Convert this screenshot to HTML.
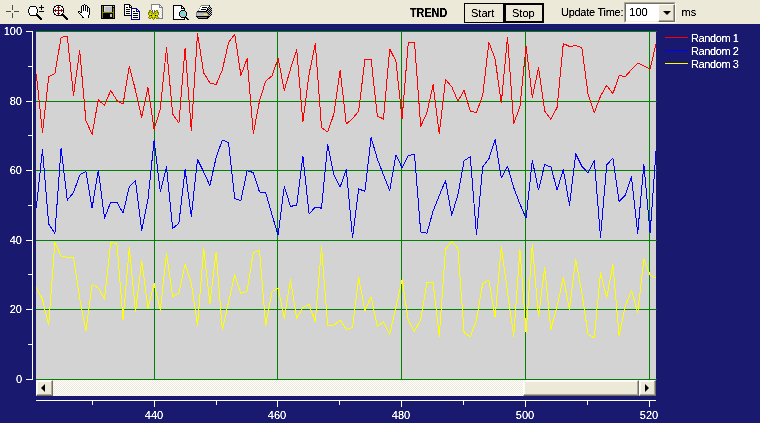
<!DOCTYPE html>
<html><head><meta charset="utf-8"><title>TREND</title>
<style>
html,body{margin:0;padding:0;}
body{width:760px;height:423px;overflow:hidden;background:#191970;font-family:"Liberation Sans",sans-serif;font-size:11px;position:relative;color:#000;}
#tb{position:absolute;left:0;top:0;width:760px;height:24px;background:#ece9d8;}
.t,.btn span{filter:url(#cr);}
.t{position:absolute;white-space:nowrap;line-height:12px;height:12px;transform-origin:0 50%;}
.r{transform-origin:100% 50%;text-align:right;}
.c{transform-origin:50% 50%;text-align:center;}
.w{color:#fff;}
.btn{position:absolute;top:3px;height:20px;border:1px solid #000;background:#ece9d8;box-sizing:border-box;font-size:11px;}
.btn span{position:absolute;white-space:nowrap;line-height:12px;height:12px;}
#plot{position:absolute;left:36px;top:31px;width:620px;height:349px;background:#d3d3d3;}
#sb{position:absolute;left:36px;top:380px;width:620px;height:16px;background:#ece9d8;background-image:linear-gradient(45deg,#fff 25%,transparent 25%,transparent 75%,#fff 75%),linear-gradient(45deg,#fff 25%,transparent 25%,transparent 75%,#fff 75%);background-size:2px 2px;background-position:0 0,1px 1px;}
.sbb{position:absolute;top:0;height:16px;box-sizing:border-box;background:#ece9d8;border:1px solid;border-color:#fff #716f64 #716f64 #fff;box-shadow:inset -1px -1px 0 #aca899,inset 1px 1px 0 #fbfaf6;}
.ar{position:absolute;top:2.5px;width:0;height:0;border:4px solid transparent;}
#sel{position:absolute;left:624px;top:2px;width:52px;height:21px;box-sizing:border-box;background:#fff;border:1px solid;border-color:#aca899 #fff #fff #aca899;}
#sel:before{content:"";position:absolute;left:0;top:0;right:0;bottom:0;border:1px solid;border-color:#716f64 #f1efe2 #f1efe2 #716f64;}
#selb{position:absolute;left:33px;top:1px;width:17px;height:18px;box-sizing:border-box;background:#ece9d8;border:1px solid;border-color:#fff #716f64 #716f64 #fff;box-shadow:inset -1px -1px 0 #aca899;}
#selb i{position:absolute;left:4.5px;top:6px;width:0;height:0;border:4px solid transparent;border-top:4px solid #000;border-bottom:0;margin-left:-0.5px;}
svg{position:absolute;left:0;top:0;}
</style></head><body>
<div id="tb">
<div class="t" id="trend" style="left:410px;top:7px;font-weight:bold;font-size:12px;transform:scaleX(0.9);">TREND</div>
<div class="btn" id="b1" style="left:464px;width:40px;"><span id="s1" style="left:6px;top:3px;">Start</span></div>
<div class="btn" id="b2" style="left:504px;width:40px;border-width:2px;"><span id="s2" style="left:6px;top:2px;">Stop</span></div>
<div class="t" id="ut" style="left:561px;top:6px;letter-spacing:-0.27px;">Update Time:</div>
<div id="sel"><div class="t" id="v100" style="left:4.3px;top:3px;">100</div><div id="selb"><i></i></div></div>
<div class="t" id="ms" style="left:681.5px;top:6px;">ms</div>
</div>
<div id="plot"></div>
<div id="sb">
<div class="sbb" style="left:0;width:17px;"><div class="ar" style="border-right:4.5px solid #000;border-left:0;left:3.5px;"></div></div>
<div class="sbb" style="left:487px;width:116px;"></div>
<div class="sbb" style="left:603px;width:17px;"><div class="ar" style="border-left:4.5px solid #000;border-right:0;left:5px;"></div></div>
</div>

<div class="t r w yl" style="right:738px;top:25px;">100</div>
<div class="t r w yl" style="right:738px;top:95px;">80</div>
<div class="t r w yl" style="right:738px;top:164px;">60</div>
<div class="t r w yl" style="right:738px;top:234px;">40</div>
<div class="t r w yl" style="right:738px;top:303px;">20</div>
<div class="t r w yl" style="right:738px;top:373px;">0</div>
<div class="t c w xl" style="left:134px;width:40px;top:409px;">440</div>
<div class="t c w xl" style="left:257px;width:40px;top:409px;">460</div>
<div class="t c w xl" style="left:381px;width:40px;top:409px;">480</div>
<div class="t c w xl" style="left:505px;width:40px;top:409px;">500</div>
<div class="t c w xl" style="left:629px;width:40px;top:409px;">520</div>
<div class="t w lg" style="left:691px;top:32px;letter-spacing:-0.4px;">Random 1</div>
<div class="t w lg" style="left:691px;top:45px;letter-spacing:-0.4px;">Random 2</div>
<div class="t w lg" style="left:691px;top:58px;letter-spacing:-0.4px;">Random 3</div>
<svg width="760" height="423" viewBox="0 0 760 423">
<defs><filter id="cr" x="-5%" y="-25%" width="110%" height="150%" color-interpolation-filters="sRGB"><feComponentTransfer><feFuncA type="table" tableValues="0 0.25 1 1"/></feComponentTransfer></filter></defs>
<g id="icons"><g shape-rendering="crispEdges"><rect x="12" y="5" width="1" height="1" fill="#4a4a4a"/><rect x="12" y="6" width="1" height="1" fill="#4a4a4a"/><rect x="12" y="7" width="1" height="1" fill="#4a4a4a"/><rect x="12" y="8" width="1" height="1" fill="#4a4a4a"/><rect x="12" y="9" width="1" height="1" fill="#4a4a4a"/><rect x="6" y="11" width="5" height="1" fill="#4a4a4a"/><rect x="14" y="11" width="5" height="1" fill="#4a4a4a"/><rect x="12" y="13" width="1" height="1" fill="#4a4a4a"/><rect x="12" y="14" width="1" height="1" fill="#4a4a4a"/><rect x="12" y="15" width="1" height="1" fill="#4a4a4a"/><rect x="12" y="16" width="1" height="1" fill="#4a4a4a"/><rect x="12" y="17" width="1" height="1" fill="#4a4a4a"/><rect x="41" y="5" width="1" height="1" fill="#000"/><rect x="30" y="6" width="6" height="1" fill="#000"/><rect x="41" y="6" width="1" height="1" fill="#000"/><rect x="29" y="7" width="1" height="1" fill="#000"/><rect x="30" y="7" width="6" height="1" fill="#fff"/><rect x="36" y="7" width="1" height="1" fill="#000"/><rect x="39" y="7" width="5" height="1" fill="#000"/><rect x="29" y="8" width="1" height="1" fill="#000"/><rect x="30" y="8" width="6" height="1" fill="#fff"/><rect x="36" y="8" width="1" height="1" fill="#000"/><rect x="41" y="8" width="1" height="1" fill="#000"/><rect x="28" y="9" width="1" height="1" fill="#000"/><rect x="29" y="9" width="8" height="1" fill="#fff"/><rect x="37" y="9" width="1" height="1" fill="#000"/><rect x="41" y="9" width="1" height="1" fill="#000"/><rect x="28" y="10" width="1" height="1" fill="#000"/><rect x="29" y="10" width="8" height="1" fill="#fff"/><rect x="37" y="10" width="1" height="1" fill="#000"/><rect x="28" y="11" width="1" height="1" fill="#000"/><rect x="29" y="11" width="8" height="1" fill="#fff"/><rect x="37" y="11" width="1" height="1" fill="#000"/><rect x="39" y="11" width="5" height="1" fill="#000"/><rect x="28" y="12" width="1" height="1" fill="#000"/><rect x="29" y="12" width="8" height="1" fill="#fff"/><rect x="37" y="12" width="1" height="1" fill="#000"/><rect x="29" y="13" width="1" height="1" fill="#000"/><rect x="30" y="13" width="6" height="1" fill="#fff"/><rect x="36" y="13" width="1" height="1" fill="#000"/><rect x="29" y="14" width="1" height="1" fill="#000"/><rect x="30" y="14" width="6" height="1" fill="#fff"/><rect x="36" y="14" width="2" height="1" fill="#000"/><rect x="30" y="15" width="9" height="1" fill="#000"/><rect x="37" y="16" width="3" height="1" fill="#000"/><rect x="38" y="17" width="3" height="1" fill="#000"/><rect x="39" y="18" width="3" height="1" fill="#000"/><rect x="40" y="19" width="2" height="1" fill="#000"/><rect x="56" y="5" width="5" height="1" fill="#000"/><rect x="54" y="6" width="2" height="1" fill="#000"/><rect x="56" y="6" width="2" height="1" fill="#fff"/><rect x="58" y="6" width="1" height="1" fill="#800000"/><rect x="59" y="6" width="2" height="1" fill="#fff"/><rect x="61" y="6" width="2" height="1" fill="#000"/><rect x="54" y="7" width="1" height="1" fill="#000"/><rect x="55" y="7" width="2" height="1" fill="#fff"/><rect x="57" y="7" width="3" height="1" fill="#800000"/><rect x="60" y="7" width="2" height="1" fill="#fff"/><rect x="62" y="7" width="1" height="1" fill="#000"/><rect x="53" y="8" width="1" height="1" fill="#000"/><rect x="54" y="8" width="4" height="1" fill="#fff"/><rect x="58" y="8" width="1" height="1" fill="#800000"/><rect x="59" y="8" width="4" height="1" fill="#fff"/><rect x="63" y="8" width="1" height="1" fill="#000"/><rect x="53" y="9" width="1" height="1" fill="#000"/><rect x="54" y="9" width="1" height="1" fill="#fff"/><rect x="55" y="9" width="1" height="1" fill="#800000"/><rect x="56" y="9" width="2" height="1" fill="#fff"/><rect x="58" y="9" width="1" height="1" fill="#800000"/><rect x="59" y="9" width="2" height="1" fill="#fff"/><rect x="61" y="9" width="1" height="1" fill="#800000"/><rect x="62" y="9" width="1" height="1" fill="#fff"/><rect x="63" y="9" width="1" height="1" fill="#000"/><rect x="53" y="10" width="1" height="1" fill="#000"/><rect x="54" y="10" width="9" height="1" fill="#800000"/><rect x="63" y="10" width="1" height="1" fill="#000"/><rect x="53" y="11" width="1" height="1" fill="#000"/><rect x="54" y="11" width="1" height="1" fill="#fff"/><rect x="55" y="11" width="1" height="1" fill="#800000"/><rect x="56" y="11" width="2" height="1" fill="#fff"/><rect x="58" y="11" width="1" height="1" fill="#800000"/><rect x="59" y="11" width="2" height="1" fill="#fff"/><rect x="61" y="11" width="1" height="1" fill="#800000"/><rect x="62" y="11" width="1" height="1" fill="#fff"/><rect x="63" y="11" width="1" height="1" fill="#000"/><rect x="53" y="12" width="1" height="1" fill="#000"/><rect x="54" y="12" width="4" height="1" fill="#fff"/><rect x="58" y="12" width="1" height="1" fill="#800000"/><rect x="59" y="12" width="4" height="1" fill="#fff"/><rect x="63" y="12" width="1" height="1" fill="#000"/><rect x="54" y="13" width="1" height="1" fill="#000"/><rect x="55" y="13" width="2" height="1" fill="#fff"/><rect x="57" y="13" width="3" height="1" fill="#800000"/><rect x="60" y="13" width="2" height="1" fill="#fff"/><rect x="62" y="13" width="1" height="1" fill="#000"/><rect x="54" y="14" width="2" height="1" fill="#000"/><rect x="56" y="14" width="2" height="1" fill="#fff"/><rect x="58" y="14" width="1" height="1" fill="#800000"/><rect x="59" y="14" width="2" height="1" fill="#fff"/><rect x="61" y="14" width="3" height="1" fill="#000"/><rect x="56" y="15" width="9" height="1" fill="#000"/><rect x="63" y="16" width="3" height="1" fill="#000"/><rect x="64" y="17" width="3" height="1" fill="#000"/><rect x="65" y="18" width="3" height="1" fill="#000"/><rect x="66" y="19" width="2" height="1" fill="#000"/><rect x="84" y="4" width="1" height="1" fill="#000"/><rect x="82" y="5" width="2" height="1" fill="#000"/><rect x="84" y="5" width="1" height="1" fill="#fff"/><rect x="85" y="5" width="2" height="1" fill="#000"/><rect x="81" y="6" width="1" height="1" fill="#000"/><rect x="82" y="6" width="1" height="1" fill="#fff"/><rect x="83" y="6" width="1" height="1" fill="#000"/><rect x="84" y="6" width="1" height="1" fill="#fff"/><rect x="85" y="6" width="1" height="1" fill="#000"/><rect x="86" y="6" width="1" height="1" fill="#fff"/><rect x="87" y="6" width="1" height="1" fill="#000"/><rect x="81" y="7" width="1" height="1" fill="#000"/><rect x="82" y="7" width="1" height="1" fill="#fff"/><rect x="83" y="7" width="1" height="1" fill="#000"/><rect x="84" y="7" width="1" height="1" fill="#fff"/><rect x="85" y="7" width="1" height="1" fill="#000"/><rect x="86" y="7" width="1" height="1" fill="#fff"/><rect x="87" y="7" width="2" height="1" fill="#000"/><rect x="81" y="8" width="1" height="1" fill="#000"/><rect x="82" y="8" width="1" height="1" fill="#fff"/><rect x="83" y="8" width="1" height="1" fill="#000"/><rect x="84" y="8" width="1" height="1" fill="#fff"/><rect x="85" y="8" width="1" height="1" fill="#000"/><rect x="86" y="8" width="1" height="1" fill="#fff"/><rect x="87" y="8" width="1" height="1" fill="#000"/><rect x="88" y="8" width="1" height="1" fill="#fff"/><rect x="89" y="8" width="1" height="1" fill="#000"/><rect x="81" y="9" width="1" height="1" fill="#000"/><rect x="82" y="9" width="1" height="1" fill="#fff"/><rect x="83" y="9" width="1" height="1" fill="#000"/><rect x="84" y="9" width="1" height="1" fill="#fff"/><rect x="85" y="9" width="1" height="1" fill="#000"/><rect x="86" y="9" width="1" height="1" fill="#fff"/><rect x="87" y="9" width="1" height="1" fill="#000"/><rect x="88" y="9" width="1" height="1" fill="#fff"/><rect x="89" y="9" width="1" height="1" fill="#000"/><rect x="81" y="10" width="1" height="1" fill="#000"/><rect x="82" y="10" width="1" height="1" fill="#fff"/><rect x="83" y="10" width="1" height="1" fill="#000"/><rect x="84" y="10" width="1" height="1" fill="#fff"/><rect x="85" y="10" width="1" height="1" fill="#000"/><rect x="86" y="10" width="1" height="1" fill="#fff"/><rect x="87" y="10" width="1" height="1" fill="#000"/><rect x="88" y="10" width="1" height="1" fill="#fff"/><rect x="89" y="10" width="1" height="1" fill="#000"/><rect x="78" y="11" width="2" height="1" fill="#000"/><rect x="81" y="11" width="1" height="1" fill="#000"/><rect x="82" y="11" width="5" height="1" fill="#fff"/><rect x="87" y="11" width="1" height="1" fill="#000"/><rect x="88" y="11" width="1" height="1" fill="#fff"/><rect x="89" y="11" width="1" height="1" fill="#000"/><rect x="78" y="12" width="1" height="1" fill="#000"/><rect x="79" y="12" width="1" height="1" fill="#fff"/><rect x="80" y="12" width="2" height="1" fill="#000"/><rect x="82" y="12" width="7" height="1" fill="#fff"/><rect x="89" y="12" width="1" height="1" fill="#000"/><rect x="79" y="13" width="1" height="1" fill="#000"/><rect x="80" y="13" width="9" height="1" fill="#fff"/><rect x="89" y="13" width="1" height="1" fill="#000"/><rect x="80" y="14" width="1" height="1" fill="#000"/><rect x="81" y="14" width="8" height="1" fill="#fff"/><rect x="89" y="14" width="1" height="1" fill="#000"/><rect x="81" y="15" width="1" height="1" fill="#000"/><rect x="82" y="15" width="6" height="1" fill="#fff"/><rect x="88" y="15" width="1" height="1" fill="#000"/><rect x="82" y="16" width="1" height="1" fill="#000"/><rect x="83" y="16" width="5" height="1" fill="#fff"/><rect x="88" y="16" width="1" height="1" fill="#000"/><rect x="82" y="17" width="2" height="1" fill="#000"/><rect x="84" y="17" width="4" height="1" fill="#fff"/><rect x="88" y="17" width="1" height="1" fill="#000"/><rect x="101" y="5" width="14" height="1" fill="#000"/><rect x="101" y="6" width="1" height="1" fill="#000"/><rect x="102" y="6" width="1" height="1" fill="#808000"/><rect x="103" y="6" width="1" height="1" fill="#000"/><rect x="104" y="6" width="8" height="1" fill="#e0e0e0"/><rect x="112" y="6" width="1" height="1" fill="#000"/><rect x="113" y="6" width="1" height="1" fill="#c0c0c0"/><rect x="114" y="6" width="1" height="1" fill="#000"/><rect x="101" y="7" width="1" height="1" fill="#000"/><rect x="102" y="7" width="1" height="1" fill="#808000"/><rect x="103" y="7" width="1" height="1" fill="#000"/><rect x="104" y="7" width="1" height="1" fill="#e0e0e0"/><rect x="105" y="7" width="7" height="1" fill="#c0c0c0"/><rect x="112" y="7" width="3" height="1" fill="#000"/><rect x="101" y="8" width="1" height="1" fill="#000"/><rect x="102" y="8" width="1" height="1" fill="#808000"/><rect x="103" y="8" width="1" height="1" fill="#000"/><rect x="104" y="8" width="1" height="1" fill="#e0e0e0"/><rect x="105" y="8" width="7" height="1" fill="#c0c0c0"/><rect x="112" y="8" width="1" height="1" fill="#000"/><rect x="113" y="8" width="1" height="1" fill="#808000"/><rect x="114" y="8" width="1" height="1" fill="#000"/><rect x="101" y="9" width="1" height="1" fill="#000"/><rect x="102" y="9" width="1" height="1" fill="#808000"/><rect x="103" y="9" width="1" height="1" fill="#000"/><rect x="104" y="9" width="1" height="1" fill="#e0e0e0"/><rect x="105" y="9" width="7" height="1" fill="#c0c0c0"/><rect x="112" y="9" width="1" height="1" fill="#000"/><rect x="113" y="9" width="1" height="1" fill="#808000"/><rect x="114" y="9" width="1" height="1" fill="#000"/><rect x="101" y="10" width="1" height="1" fill="#000"/><rect x="102" y="10" width="1" height="1" fill="#808000"/><rect x="103" y="10" width="1" height="1" fill="#000"/><rect x="104" y="10" width="1" height="1" fill="#e0e0e0"/><rect x="105" y="10" width="7" height="1" fill="#c0c0c0"/><rect x="112" y="10" width="1" height="1" fill="#000"/><rect x="113" y="10" width="1" height="1" fill="#808000"/><rect x="114" y="10" width="1" height="1" fill="#000"/><rect x="101" y="11" width="1" height="1" fill="#000"/><rect x="102" y="11" width="1" height="1" fill="#808000"/><rect x="103" y="11" width="1" height="1" fill="#000"/><rect x="104" y="11" width="8" height="1" fill="#c0c0c0"/><rect x="112" y="11" width="1" height="1" fill="#000"/><rect x="113" y="11" width="1" height="1" fill="#808000"/><rect x="114" y="11" width="1" height="1" fill="#000"/><rect x="101" y="12" width="1" height="1" fill="#000"/><rect x="102" y="12" width="12" height="1" fill="#808000"/><rect x="114" y="12" width="1" height="1" fill="#000"/><rect x="101" y="13" width="1" height="1" fill="#000"/><rect x="102" y="13" width="1" height="1" fill="#808000"/><rect x="103" y="13" width="10" height="1" fill="#000"/><rect x="113" y="13" width="1" height="1" fill="#808000"/><rect x="114" y="13" width="1" height="1" fill="#000"/><rect x="101" y="14" width="1" height="1" fill="#000"/><rect x="102" y="14" width="1" height="1" fill="#808000"/><rect x="103" y="14" width="7" height="1" fill="#000"/><rect x="110" y="14" width="2" height="1" fill="#c0c0c0"/><rect x="112" y="14" width="1" height="1" fill="#000"/><rect x="113" y="14" width="1" height="1" fill="#808000"/><rect x="114" y="14" width="1" height="1" fill="#000"/><rect x="101" y="15" width="1" height="1" fill="#000"/><rect x="102" y="15" width="1" height="1" fill="#808000"/><rect x="103" y="15" width="7" height="1" fill="#000"/><rect x="110" y="15" width="2" height="1" fill="#c0c0c0"/><rect x="112" y="15" width="1" height="1" fill="#000"/><rect x="113" y="15" width="1" height="1" fill="#808000"/><rect x="114" y="15" width="1" height="1" fill="#000"/><rect x="101" y="16" width="1" height="1" fill="#000"/><rect x="102" y="16" width="1" height="1" fill="#808000"/><rect x="103" y="16" width="7" height="1" fill="#000"/><rect x="110" y="16" width="2" height="1" fill="#c0c0c0"/><rect x="112" y="16" width="1" height="1" fill="#000"/><rect x="113" y="16" width="1" height="1" fill="#808000"/><rect x="114" y="16" width="1" height="1" fill="#000"/><rect x="101" y="17" width="1" height="1" fill="#000"/><rect x="102" y="17" width="1" height="1" fill="#808000"/><rect x="103" y="17" width="10" height="1" fill="#000"/><rect x="113" y="17" width="1" height="1" fill="#808000"/><rect x="114" y="17" width="1" height="1" fill="#000"/><rect x="101" y="18" width="14" height="1" fill="#000"/><rect x="124" y="4" width="6" height="1" fill="#000"/><rect x="124" y="5" width="1" height="1" fill="#000"/><rect x="125" y="5" width="4" height="1" fill="#fff"/><rect x="129" y="5" width="2" height="1" fill="#000"/><rect x="124" y="6" width="1" height="1" fill="#000"/><rect x="125" y="6" width="4" height="1" fill="#fff"/><rect x="129" y="6" width="1" height="1" fill="#000"/><rect x="130" y="6" width="1" height="1" fill="#fff"/><rect x="131" y="6" width="1" height="1" fill="#000"/><rect x="124" y="7" width="1" height="1" fill="#000"/><rect x="125" y="7" width="1" height="1" fill="#fff"/><rect x="126" y="7" width="2" height="1" fill="#000"/><rect x="128" y="7" width="1" height="1" fill="#fff"/><rect x="129" y="7" width="3" height="1" fill="#000"/><rect x="124" y="8" width="1" height="1" fill="#000"/><rect x="125" y="8" width="6" height="1" fill="#fff"/><rect x="131" y="8" width="6" height="1" fill="#000080"/><rect x="124" y="9" width="1" height="1" fill="#000"/><rect x="125" y="9" width="1" height="1" fill="#fff"/><rect x="126" y="9" width="4" height="1" fill="#000"/><rect x="130" y="9" width="1" height="1" fill="#fff"/><rect x="131" y="9" width="1" height="1" fill="#000080"/><rect x="132" y="9" width="4" height="1" fill="#fff"/><rect x="136" y="9" width="2" height="1" fill="#000080"/><rect x="124" y="10" width="1" height="1" fill="#000"/><rect x="125" y="10" width="6" height="1" fill="#fff"/><rect x="131" y="10" width="1" height="1" fill="#000080"/><rect x="132" y="10" width="4" height="1" fill="#fff"/><rect x="136" y="10" width="1" height="1" fill="#000080"/><rect x="137" y="10" width="1" height="1" fill="#fff"/><rect x="138" y="10" width="1" height="1" fill="#000080"/><rect x="124" y="11" width="1" height="1" fill="#000"/><rect x="125" y="11" width="1" height="1" fill="#fff"/><rect x="126" y="11" width="4" height="1" fill="#000"/><rect x="130" y="11" width="1" height="1" fill="#fff"/><rect x="131" y="11" width="1" height="1" fill="#000080"/><rect x="132" y="11" width="1" height="1" fill="#fff"/><rect x="133" y="11" width="2" height="1" fill="#000"/><rect x="135" y="11" width="1" height="1" fill="#fff"/><rect x="136" y="11" width="4" height="1" fill="#000080"/><rect x="124" y="12" width="1" height="1" fill="#000"/><rect x="125" y="12" width="6" height="1" fill="#fff"/><rect x="131" y="12" width="1" height="1" fill="#000080"/><rect x="132" y="12" width="7" height="1" fill="#fff"/><rect x="139" y="12" width="1" height="1" fill="#000080"/><rect x="124" y="13" width="1" height="1" fill="#000"/><rect x="125" y="13" width="1" height="1" fill="#fff"/><rect x="126" y="13" width="4" height="1" fill="#000"/><rect x="130" y="13" width="1" height="1" fill="#fff"/><rect x="131" y="13" width="1" height="1" fill="#000080"/><rect x="132" y="13" width="1" height="1" fill="#fff"/><rect x="133" y="13" width="5" height="1" fill="#000"/><rect x="138" y="13" width="1" height="1" fill="#fff"/><rect x="139" y="13" width="1" height="1" fill="#000080"/><rect x="124" y="14" width="1" height="1" fill="#000"/><rect x="125" y="14" width="6" height="1" fill="#fff"/><rect x="131" y="14" width="1" height="1" fill="#000080"/><rect x="132" y="14" width="7" height="1" fill="#fff"/><rect x="139" y="14" width="1" height="1" fill="#000080"/><rect x="124" y="15" width="7" height="1" fill="#000"/><rect x="131" y="15" width="1" height="1" fill="#000080"/><rect x="132" y="15" width="1" height="1" fill="#fff"/><rect x="133" y="15" width="5" height="1" fill="#000"/><rect x="138" y="15" width="1" height="1" fill="#fff"/><rect x="139" y="15" width="1" height="1" fill="#000080"/><rect x="131" y="16" width="1" height="1" fill="#000080"/><rect x="132" y="16" width="7" height="1" fill="#fff"/><rect x="139" y="16" width="1" height="1" fill="#000080"/><rect x="131" y="17" width="1" height="1" fill="#000080"/><rect x="132" y="17" width="1" height="1" fill="#fff"/><rect x="133" y="17" width="5" height="1" fill="#000"/><rect x="138" y="17" width="1" height="1" fill="#fff"/><rect x="139" y="17" width="1" height="1" fill="#000080"/><rect x="131" y="18" width="1" height="1" fill="#000080"/><rect x="132" y="18" width="7" height="1" fill="#fff"/><rect x="139" y="18" width="1" height="1" fill="#000080"/><rect x="131" y="19" width="9" height="1" fill="#000080"/><rect x="151" y="4" width="9" height="1" fill="#808080"/><rect x="151" y="5" width="1" height="1" fill="#808080"/><rect x="152" y="5" width="7" height="1" fill="#fff"/><rect x="159" y="5" width="2" height="1" fill="#808080"/><rect x="151" y="6" width="1" height="1" fill="#808080"/><rect x="152" y="6" width="7" height="1" fill="#fff"/><rect x="159" y="6" width="1" height="1" fill="#808080"/><rect x="160" y="6" width="1" height="1" fill="#fff"/><rect x="161" y="6" width="1" height="1" fill="#808080"/><rect x="151" y="7" width="1" height="1" fill="#808080"/><rect x="152" y="7" width="7" height="1" fill="#fff"/><rect x="159" y="7" width="4" height="1" fill="#808080"/><rect x="151" y="8" width="1" height="1" fill="#808080"/><rect x="152" y="8" width="9" height="1" fill="#fff"/><rect x="161" y="8" width="1" height="1" fill="#e0e0e0"/><rect x="162" y="8" width="1" height="1" fill="#808080"/><rect x="151" y="9" width="1" height="1" fill="#808080"/><rect x="152" y="9" width="6" height="1" fill="#fff"/><rect x="158" y="9" width="1" height="1" fill="#e0e0e0"/><rect x="159" y="9" width="1" height="1" fill="#fff"/><rect x="160" y="9" width="1" height="1" fill="#e0e0e0"/><rect x="161" y="9" width="1" height="1" fill="#fff"/><rect x="162" y="9" width="1" height="1" fill="#808080"/><rect x="149" y="10" width="2" height="1" fill="#808000"/><rect x="152" y="10" width="1" height="1" fill="#606060"/><rect x="153" y="10" width="1" height="1" fill="#fff"/><rect x="154" y="10" width="1" height="1" fill="#606060"/><rect x="155" y="10" width="1" height="1" fill="#fff"/><rect x="156" y="10" width="2" height="1" fill="#808000"/><rect x="158" y="10" width="1" height="1" fill="#fff"/><rect x="159" y="10" width="1" height="1" fill="#e0e0e0"/><rect x="160" y="10" width="1" height="1" fill="#fff"/><rect x="161" y="10" width="1" height="1" fill="#e0e0e0"/><rect x="162" y="10" width="1" height="1" fill="#808080"/><rect x="149" y="11" width="1" height="1" fill="#808000"/><rect x="150" y="11" width="1" height="1" fill="#d4d400"/><rect x="151" y="11" width="1" height="1" fill="#808000"/><rect x="152" y="11" width="1" height="1" fill="#606060"/><rect x="153" y="11" width="1" height="1" fill="#fff"/><rect x="154" y="11" width="1" height="1" fill="#606060"/><rect x="155" y="11" width="1" height="1" fill="#808000"/><rect x="156" y="11" width="1" height="1" fill="#d4d400"/><rect x="157" y="11" width="1" height="1" fill="#808000"/><rect x="158" y="11" width="1" height="1" fill="#e0e0e0"/><rect x="159" y="11" width="1" height="1" fill="#fff"/><rect x="160" y="11" width="1" height="1" fill="#e0e0e0"/><rect x="161" y="11" width="1" height="1" fill="#fff"/><rect x="162" y="11" width="1" height="1" fill="#808080"/><rect x="148" y="12" width="2" height="1" fill="#808000"/><rect x="150" y="12" width="1" height="1" fill="#b8b800"/><rect x="151" y="12" width="1" height="1" fill="#d4d400"/><rect x="152" y="12" width="1" height="1" fill="#808000"/><rect x="153" y="12" width="1" height="1" fill="#c0c0c0"/><rect x="154" y="12" width="1" height="1" fill="#808000"/><rect x="155" y="12" width="1" height="1" fill="#d4d400"/><rect x="156" y="12" width="1" height="1" fill="#b8b800"/><rect x="157" y="12" width="2" height="1" fill="#808000"/><rect x="159" y="12" width="1" height="1" fill="#e0e0e0"/><rect x="160" y="12" width="1" height="1" fill="#fff"/><rect x="161" y="12" width="1" height="1" fill="#e0e0e0"/><rect x="162" y="12" width="1" height="1" fill="#808080"/><rect x="148" y="13" width="1" height="1" fill="#808000"/><rect x="149" y="13" width="2" height="1" fill="#d4d400"/><rect x="151" y="13" width="1" height="1" fill="#808000"/><rect x="152" y="13" width="1" height="1" fill="#b8b800"/><rect x="153" y="13" width="1" height="1" fill="#606060"/><rect x="154" y="13" width="1" height="1" fill="#b8b800"/><rect x="155" y="13" width="1" height="1" fill="#808000"/><rect x="156" y="13" width="2" height="1" fill="#d4d400"/><rect x="158" y="13" width="1" height="1" fill="#808000"/><rect x="159" y="13" width="1" height="1" fill="#fff"/><rect x="160" y="13" width="1" height="1" fill="#e0e0e0"/><rect x="161" y="13" width="1" height="1" fill="#fff"/><rect x="162" y="13" width="1" height="1" fill="#808080"/><rect x="148" y="14" width="1" height="1" fill="#808000"/><rect x="149" y="14" width="1" height="1" fill="#d4d400"/><rect x="150" y="14" width="1" height="1" fill="#c0f040"/><rect x="151" y="14" width="1" height="1" fill="#d4d400"/><rect x="152" y="14" width="1" height="1" fill="#b8b800"/><rect x="153" y="14" width="1" height="1" fill="#d4d400"/><rect x="154" y="14" width="1" height="1" fill="#b8b800"/><rect x="155" y="14" width="1" height="1" fill="#d4d400"/><rect x="156" y="14" width="1" height="1" fill="#c0f040"/><rect x="157" y="14" width="1" height="1" fill="#d4d400"/><rect x="158" y="14" width="1" height="1" fill="#808000"/><rect x="159" y="14" width="1" height="1" fill="#e0e0e0"/><rect x="160" y="14" width="1" height="1" fill="#fff"/><rect x="161" y="14" width="1" height="1" fill="#e0e0e0"/><rect x="162" y="14" width="1" height="1" fill="#808080"/><rect x="149" y="15" width="2" height="1" fill="#808000"/><rect x="151" y="15" width="1" height="1" fill="#000"/><rect x="152" y="15" width="3" height="1" fill="#d4d400"/><rect x="155" y="15" width="1" height="1" fill="#000"/><rect x="156" y="15" width="2" height="1" fill="#808000"/><rect x="158" y="15" width="1" height="1" fill="#fff"/><rect x="159" y="15" width="1" height="1" fill="#e0e0e0"/><rect x="160" y="15" width="1" height="1" fill="#fff"/><rect x="161" y="15" width="1" height="1" fill="#e0e0e0"/><rect x="162" y="15" width="1" height="1" fill="#808080"/><rect x="149" y="16" width="1" height="1" fill="#808000"/><rect x="150" y="16" width="1" height="1" fill="#d4d400"/><rect x="151" y="16" width="1" height="1" fill="#b8b800"/><rect x="152" y="16" width="1" height="1" fill="#d4d400"/><rect x="153" y="16" width="1" height="1" fill="#c0f040"/><rect x="154" y="16" width="1" height="1" fill="#d4d400"/><rect x="155" y="16" width="1" height="1" fill="#b8b800"/><rect x="156" y="16" width="1" height="1" fill="#d4d400"/><rect x="157" y="16" width="1" height="1" fill="#808000"/><rect x="158" y="16" width="1" height="1" fill="#e0e0e0"/><rect x="159" y="16" width="1" height="1" fill="#fff"/><rect x="160" y="16" width="1" height="1" fill="#e0e0e0"/><rect x="161" y="16" width="1" height="1" fill="#fff"/><rect x="162" y="16" width="1" height="1" fill="#808080"/><rect x="148" y="17" width="1" height="1" fill="#808000"/><rect x="149" y="17" width="2" height="1" fill="#d4d400"/><rect x="151" y="17" width="2" height="1" fill="#808000"/><rect x="153" y="17" width="1" height="1" fill="#d4d400"/><rect x="154" y="17" width="2" height="1" fill="#808000"/><rect x="156" y="17" width="2" height="1" fill="#d4d400"/><rect x="158" y="17" width="1" height="1" fill="#808000"/><rect x="159" y="17" width="1" height="1" fill="#e0e0e0"/><rect x="160" y="17" width="1" height="1" fill="#fff"/><rect x="161" y="17" width="1" height="1" fill="#e0e0e0"/><rect x="162" y="17" width="1" height="1" fill="#808080"/><rect x="149" y="18" width="2" height="1" fill="#808000"/><rect x="152" y="18" width="1" height="1" fill="#808000"/><rect x="153" y="18" width="1" height="1" fill="#d4d400"/><rect x="154" y="18" width="1" height="1" fill="#808000"/><rect x="156" y="18" width="2" height="1" fill="#808000"/><rect x="158" y="18" width="5" height="1" fill="#808080"/><rect x="153" y="19" width="1" height="1" fill="#808000"/><rect x="173" y="5" width="9" height="1" fill="#000"/><rect x="173" y="6" width="1" height="1" fill="#000"/><rect x="174" y="6" width="7" height="1" fill="#fff"/><rect x="181" y="6" width="2" height="1" fill="#000"/><rect x="173" y="7" width="1" height="1" fill="#000"/><rect x="174" y="7" width="7" height="1" fill="#fff"/><rect x="181" y="7" width="1" height="1" fill="#000"/><rect x="182" y="7" width="1" height="1" fill="#fff"/><rect x="183" y="7" width="1" height="1" fill="#000"/><rect x="173" y="8" width="1" height="1" fill="#000"/><rect x="174" y="8" width="7" height="1" fill="#fff"/><rect x="181" y="8" width="4" height="1" fill="#000"/><rect x="173" y="9" width="1" height="1" fill="#000"/><rect x="174" y="9" width="10" height="1" fill="#fff"/><rect x="184" y="9" width="1" height="1" fill="#000"/><rect x="173" y="10" width="1" height="1" fill="#000"/><rect x="174" y="10" width="7" height="1" fill="#fff"/><rect x="181" y="10" width="4" height="1" fill="#000"/><rect x="173" y="11" width="1" height="1" fill="#000"/><rect x="174" y="11" width="6" height="1" fill="#fff"/><rect x="180" y="11" width="1" height="1" fill="#000"/><rect x="181" y="11" width="1" height="1" fill="#c0c0c0"/><rect x="182" y="11" width="1" height="1" fill="#00ffff"/><rect x="183" y="11" width="2" height="1" fill="#c0c0c0"/><rect x="185" y="11" width="1" height="1" fill="#000"/><rect x="173" y="12" width="1" height="1" fill="#000"/><rect x="174" y="12" width="5" height="1" fill="#fff"/><rect x="179" y="12" width="1" height="1" fill="#000"/><rect x="180" y="12" width="1" height="1" fill="#c0c0c0"/><rect x="181" y="12" width="2" height="1" fill="#00ffff"/><rect x="183" y="12" width="3" height="1" fill="#c0c0c0"/><rect x="186" y="12" width="1" height="1" fill="#000"/><rect x="173" y="13" width="1" height="1" fill="#000"/><rect x="174" y="13" width="5" height="1" fill="#fff"/><rect x="179" y="13" width="1" height="1" fill="#000"/><rect x="180" y="13" width="1" height="1" fill="#c0c0c0"/><rect x="181" y="13" width="1" height="1" fill="#00ffff"/><rect x="182" y="13" width="4" height="1" fill="#c0c0c0"/><rect x="186" y="13" width="1" height="1" fill="#000"/><rect x="173" y="14" width="1" height="1" fill="#000"/><rect x="174" y="14" width="5" height="1" fill="#fff"/><rect x="179" y="14" width="1" height="1" fill="#000"/><rect x="180" y="14" width="4" height="1" fill="#c0c0c0"/><rect x="184" y="14" width="1" height="1" fill="#00ffff"/><rect x="185" y="14" width="1" height="1" fill="#c0c0c0"/><rect x="186" y="14" width="1" height="1" fill="#000"/><rect x="173" y="15" width="1" height="1" fill="#000"/><rect x="174" y="15" width="5" height="1" fill="#fff"/><rect x="179" y="15" width="1" height="1" fill="#000"/><rect x="180" y="15" width="3" height="1" fill="#c0c0c0"/><rect x="183" y="15" width="2" height="1" fill="#00ffff"/><rect x="185" y="15" width="1" height="1" fill="#c0c0c0"/><rect x="186" y="15" width="1" height="1" fill="#000"/><rect x="173" y="16" width="1" height="1" fill="#000"/><rect x="174" y="16" width="6" height="1" fill="#fff"/><rect x="180" y="16" width="1" height="1" fill="#000"/><rect x="181" y="16" width="4" height="1" fill="#c0c0c0"/><rect x="185" y="16" width="1" height="1" fill="#000"/><rect x="173" y="17" width="1" height="1" fill="#000"/><rect x="174" y="17" width="7" height="1" fill="#fff"/><rect x="181" y="17" width="6" height="1" fill="#000"/><rect x="173" y="18" width="1" height="1" fill="#000"/><rect x="174" y="18" width="10" height="1" fill="#fff"/><rect x="184" y="18" width="1" height="1" fill="#000"/><rect x="186" y="18" width="2" height="1" fill="#000"/><rect x="173" y="19" width="12" height="1" fill="#000"/><rect x="187" y="19" width="2" height="1" fill="#000"/><rect x="201" y="5" width="8" height="1" fill="#808080"/><rect x="209" y="5" width="1" height="1" fill="#000"/><rect x="200" y="6" width="1" height="1" fill="#808080"/><rect x="201" y="6" width="8" height="1" fill="#fff"/><rect x="209" y="6" width="1" height="1" fill="#000"/><rect x="200" y="7" width="2" height="1" fill="#fff"/><rect x="202" y="7" width="5" height="1" fill="#000"/><rect x="207" y="7" width="1" height="1" fill="#fff"/><rect x="208" y="7" width="1" height="1" fill="#000"/><rect x="209" y="7" width="1" height="1" fill="#c0c0c0"/><rect x="210" y="7" width="1" height="1" fill="#000"/><rect x="199" y="8" width="1" height="1" fill="#808080"/><rect x="200" y="8" width="7" height="1" fill="#fff"/><rect x="207" y="8" width="1" height="1" fill="#000"/><rect x="208" y="8" width="1" height="1" fill="#c0c0c0"/><rect x="209" y="8" width="1" height="1" fill="#000"/><rect x="210" y="8" width="1" height="1" fill="#c0c0c0"/><rect x="211" y="8" width="1" height="1" fill="#000"/><rect x="199" y="9" width="2" height="1" fill="#fff"/><rect x="201" y="9" width="5" height="1" fill="#000"/><rect x="206" y="9" width="1" height="1" fill="#fff"/><rect x="207" y="9" width="2" height="1" fill="#000"/><rect x="209" y="9" width="1" height="1" fill="#c0c0c0"/><rect x="210" y="9" width="1" height="1" fill="#000"/><rect x="211" y="9" width="1" height="1" fill="#c0c0c0"/><rect x="198" y="10" width="1" height="1" fill="#808080"/><rect x="199" y="10" width="7" height="1" fill="#fff"/><rect x="206" y="10" width="2" height="1" fill="#000"/><rect x="208" y="10" width="1" height="1" fill="#c0c0c0"/><rect x="209" y="10" width="1" height="1" fill="#000"/><rect x="210" y="10" width="1" height="1" fill="#c0c0c0"/><rect x="211" y="10" width="1" height="1" fill="#000"/><rect x="197" y="11" width="10" height="1" fill="#000"/><rect x="207" y="11" width="1" height="1" fill="#c0c0c0"/><rect x="208" y="11" width="1" height="1" fill="#000"/><rect x="209" y="11" width="1" height="1" fill="#c0c0c0"/><rect x="210" y="11" width="1" height="1" fill="#000"/><rect x="211" y="11" width="1" height="1" fill="#c0c0c0"/><rect x="196" y="12" width="11" height="1" fill="#808080"/><rect x="207" y="12" width="1" height="1" fill="#000"/><rect x="208" y="12" width="1" height="1" fill="#c0c0c0"/><rect x="209" y="12" width="1" height="1" fill="#000"/><rect x="210" y="12" width="1" height="1" fill="#c0c0c0"/><rect x="211" y="12" width="1" height="1" fill="#000"/><rect x="196" y="13" width="1" height="1" fill="#808080"/><rect x="197" y="13" width="10" height="1" fill="#c0c0c0"/><rect x="207" y="13" width="1" height="1" fill="#808080"/><rect x="208" y="13" width="1" height="1" fill="#000"/><rect x="209" y="13" width="1" height="1" fill="#c0c0c0"/><rect x="210" y="13" width="1" height="1" fill="#000"/><rect x="211" y="13" width="1" height="1" fill="#c0c0c0"/><rect x="196" y="14" width="1" height="1" fill="#808080"/><rect x="197" y="14" width="7" height="1" fill="#c0c0c0"/><rect x="204" y="14" width="3" height="1" fill="#ffff00"/><rect x="207" y="14" width="1" height="1" fill="#c0c0c0"/><rect x="208" y="14" width="1" height="1" fill="#808080"/><rect x="209" y="14" width="1" height="1" fill="#000"/><rect x="210" y="14" width="1" height="1" fill="#c0c0c0"/><rect x="211" y="14" width="1" height="1" fill="#000"/><rect x="196" y="15" width="1" height="1" fill="#808080"/><rect x="197" y="15" width="11" height="1" fill="#c0c0c0"/><rect x="208" y="15" width="1" height="1" fill="#808080"/><rect x="209" y="15" width="1" height="1" fill="#c0c0c0"/><rect x="210" y="15" width="1" height="1" fill="#000"/><rect x="196" y="16" width="14" height="1" fill="#000"/><rect x="197" y="17" width="1" height="1" fill="#000"/><rect x="198" y="17" width="9" height="1" fill="#808080"/><rect x="207" y="17" width="2" height="1" fill="#000"/><rect x="198" y="18" width="10" height="1" fill="#000"/></g></g>
<g shape-rendering="crispEdges"><rect x="154" y="31" width="1" height="349" fill="#008000"/><rect x="277" y="31" width="1" height="349" fill="#008000"/><rect x="401" y="31" width="1" height="349" fill="#008000"/><rect x="525" y="31" width="1" height="349" fill="#008000"/><rect x="649" y="31" width="1" height="349" fill="#008000"/><rect x="36" y="31" width="621" height="1" fill="#008000"/><rect x="36" y="101" width="621" height="1" fill="#008000"/><rect x="36" y="170" width="621" height="1" fill="#008000"/><rect x="36" y="240" width="621" height="1" fill="#008000"/><rect x="36" y="309" width="621" height="1" fill="#008000"/><rect x="36" y="379" width="621" height="1" fill="#008000"/><rect x="32" y="31" width="1" height="349" fill="#fff"/><rect x="26" y="31" width="6" height="1" fill="#fff"/><rect x="26" y="101" width="6" height="1" fill="#fff"/><rect x="26" y="170" width="6" height="1" fill="#fff"/><rect x="26" y="240" width="6" height="1" fill="#fff"/><rect x="26" y="309" width="6" height="1" fill="#fff"/><rect x="26" y="379" width="6" height="1" fill="#fff"/><rect x="28" y="66" width="4" height="1" fill="#fff"/><rect x="28" y="135" width="4" height="1" fill="#fff"/><rect x="28" y="205" width="4" height="1" fill="#fff"/><rect x="28" y="274" width="4" height="1" fill="#fff"/><rect x="28" y="344" width="4" height="1" fill="#fff"/><rect x="36" y="400" width="620" height="1" fill="#fff"/><rect x="154" y="401" width="1" height="6" fill="#fff"/><rect x="277" y="401" width="1" height="6" fill="#fff"/><rect x="401" y="401" width="1" height="6" fill="#fff"/><rect x="525" y="401" width="1" height="6" fill="#fff"/><rect x="649" y="401" width="1" height="6" fill="#fff"/><rect x="92" y="401" width="1" height="4" fill="#fff"/><rect x="216" y="401" width="1" height="4" fill="#fff"/><rect x="339" y="401" width="1" height="4" fill="#fff"/><rect x="463" y="401" width="1" height="4" fill="#fff"/><rect x="587" y="401" width="1" height="4" fill="#fff"/><rect x="665" y="37" width="23" height="1" fill="#ff0000"/><rect x="665" y="50" width="23" height="1" fill="#0000ff"/><rect x="665" y="63" width="23" height="1" fill="#ffff00"/></g>
<clipPath id="pc"><rect x="36" y="31" width="620" height="349"/></clipPath>
<g id="series" clip-path="url(#pc)">
<polyline points="36.3,74.1 42.5,133.0 48.7,76.6 54.9,73.6 61.1,37.3 67.3,36.5 73.5,95.4 79.7,50.3 85.9,120.5 92.1,134.3 98.3,99.9 104.5,105.4 110.7,90.4 116.9,100.4 123.1,104.2 129.3,66.1 135.5,90.4 141.7,117.5 147.9,87.4 154.1,129.3 160.3,109.2 166.5,47.8 172.7,114.2 178.9,123.0 185.1,47.8 191.3,130.5 197.5,33.3 203.7,72.9 209.9,82.9 216.1,84.6 222.3,70.0 228.5,42.8 234.7,34.0 240.9,75.4 247.1,58.6 253.3,133.8 259.5,101.0 265.7,81.0 271.9,76.0 278.1,58.6 284.3,90.2 290.5,69.0 296.7,49.6 302.9,122.0 309.1,74.0 315.3,43.5 321.5,127.5 327.7,132.0 333.9,114.0 340.1,70.0 346.3,124.0 352.5,118.7 358.7,111.0 364.9,59.6 371.1,59.0 377.3,116.0 383.5,119.0 389.7,49.0 395.9,61.0 402.1,118.7 408.3,42.3 414.5,42.3 420.7,126.2 426.9,113.0 433.1,84.6 439.3,133.8 445.5,79.6 451.7,86.6 457.9,101.0 464.1,90.4 470.3,111.2 476.5,112.5 482.7,95.4 488.9,42.3 495.1,59.0 501.3,103.0 507.5,37.3 513.7,123.7 519.9,106.7 526.1,46.0 532.3,97.4 538.5,67.8 544.7,111.2 550.9,119.2 557.1,107.4 563.3,43.5 569.5,46.5 575.7,45.5 581.9,47.8 588.1,94.2 594.3,112.5 600.5,96.2 606.7,85.4 612.9,93.7 619.1,75.6 625.3,76.6 631.5,69.6 637.7,63.0 643.9,66.0 650.1,69.0 656.3,42.8" fill="none" stroke="#ff0000" stroke-width="1" stroke-linejoin="round" shape-rendering="crispEdges"/>
<polyline points="36.3,207.7 42.5,149.5 48.7,224.0 54.9,233.5 61.1,148.3 67.3,200.2 73.5,192.6 79.7,175.0 85.9,171.3 92.1,208.2 98.3,170.0 104.5,218.2 110.7,202.2 116.9,202.2 123.1,213.2 129.3,186.4 135.5,180.6 141.7,231.0 147.9,200.0 154.1,140.5 160.3,191.4 166.5,167.0 172.7,228.5 178.9,223.2 185.1,169.6 191.3,216.5 197.5,159.3 203.7,172.0 209.9,185.6 216.1,157.6 222.3,140.0 228.5,142.5 234.7,198.4 240.9,200.7 247.1,170.6 253.3,172.6 259.5,192.0 265.7,192.6 271.9,214.5 278.1,235.0 284.3,186.4 290.5,206.4 296.7,205.2 302.9,156.3 309.1,214.0 315.3,207.0 321.5,208.2 327.7,144.3 333.9,175.0 340.1,187.0 346.3,169.6 352.5,237.8 358.7,188.9 364.9,191.4 371.1,137.5 377.3,158.8 383.5,175.0 389.7,190.6 395.9,155.0 402.1,167.6 408.3,155.5 414.5,154.3 420.7,232.0 426.9,233.2 433.1,211.0 439.3,195.5 445.5,180.6 451.7,215.2 457.9,195.0 464.1,160.6 470.3,156.8 476.5,234.7 482.7,167.0 488.9,158.8 495.1,139.5 501.3,178.0 507.5,166.3 513.7,187.6 519.9,204.0 526.1,218.2 532.3,160.3 538.5,190.0 544.7,164.6 550.9,167.0 557.1,190.0 563.3,169.6 569.5,205.2 575.7,153.8 581.9,166.3 588.1,173.0 594.3,160.0 600.5,237.3 606.7,165.0 612.9,158.0 619.1,201.4 625.3,195.0 631.5,177.0 637.7,233.2 643.9,164.3 650.1,233.2 656.3,147.5" fill="none" stroke="#0000ff" stroke-width="1" stroke-linejoin="round" shape-rendering="crispEdges"/>
<polyline points="36.3,287.6 42.5,299.4 48.7,325.0 54.9,242.5 61.1,256.0 67.3,257.3 73.5,257.3 79.7,298.0 85.9,331.2 92.1,284.4 98.3,288.0 104.5,299.0 110.7,242.5 116.9,243.5 123.1,320.0 129.3,247.5 135.5,312.0 141.7,260.6 147.9,308.2 154.1,283.6 160.3,310.2 166.5,253.5 172.7,296.4 178.9,293.0 185.1,264.3 191.3,283.0 197.5,325.7 203.7,248.5 209.9,303.7 216.1,251.8 222.3,330.0 228.5,302.4 234.7,274.8 240.9,293.6 247.1,291.0 253.3,252.5 259.5,250.5 265.7,325.2 271.9,291.9 278.1,288.0 284.3,318.2 290.5,279.9 296.7,318.2 302.9,307.7 309.1,304.4 315.3,322.0 321.5,246.8 327.7,325.2 333.9,325.2 340.1,320.2 346.3,329.5 352.5,327.7 358.7,277.6 364.9,310.7 371.1,296.9 377.3,326.2 383.5,322.0 389.7,334.5 395.9,307.0 402.1,279.4 408.3,320.7 414.5,331.2 420.7,319.5 426.9,282.6 433.1,282.6 439.3,336.5 445.5,249.3 451.7,241.3 457.9,248.5 464.1,332.7 470.3,337.0 476.5,319.5 482.7,283.6 488.9,280.0 495.1,317.0 501.3,246.8 507.5,292.0 513.7,336.2 519.9,249.3 526.1,333.2 532.3,244.3 538.5,317.0 544.7,267.6 550.9,329.5 557.1,306.0 563.3,277.6 569.5,309.4 575.7,259.8 581.9,293.0 588.1,334.5 594.3,338.0 600.5,272.6 606.7,298.0 612.9,264.3 619.1,335.7 625.3,305.7 631.5,290.6 637.7,312.4 643.9,259.3 650.1,275.0 656.3,278.0" fill="none" stroke="#ffff00" stroke-width="1" stroke-linejoin="round" shape-rendering="crispEdges"/>
</g>
</svg>
</body></html>
